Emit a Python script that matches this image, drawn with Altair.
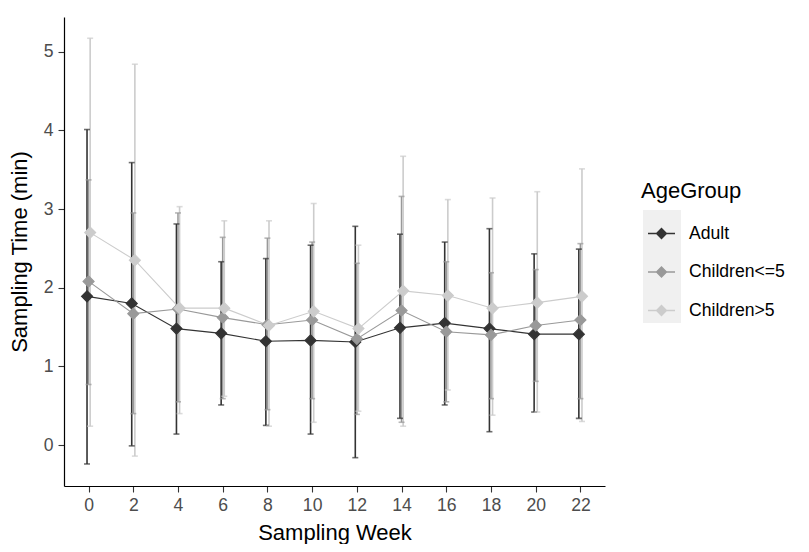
import altair as alt
import pandas as pd

weeks = [0, 2, 4, 6, 8, 10, 12, 14, 16, 18, 20, 22]
groups = ["Adult", "Children<=5", "Children>5"]
colors = ["#333333", "#999999", "#cccccc"]

adult_mean = [1.89, 1.80, 1.48, 1.42, 1.32, 1.33, 1.31, 1.49, 1.55, 1.48, 1.41, 1.41]
adult_lo = [-0.24, -0.01, 0.14, 0.51, 0.25, 0.14, -0.16, 0.34, 0.51, 0.17, 0.42, 0.34]
adult_hi = [4.01, 3.59, 2.81, 2.33, 2.37, 2.54, 2.78, 2.68, 2.58, 2.75, 2.43, 2.49]

c5_mean = [2.08, 1.67, 1.73, 1.62, 1.53, 1.59, 1.35, 1.71, 1.44, 1.40, 1.52, 1.59]
c5_lo = [0.77, 0.40, 0.55, 0.59, 0.45, 0.59, 0.39, 0.29, 0.55, 0.59, 0.81, 0.59]
c5_hi = [3.37, 2.95, 2.95, 2.64, 2.63, 2.58, 2.31, 3.16, 2.33, 2.19, 2.23, 2.56]

c6_mean = [2.70, 2.35, 1.74, 1.74, 1.52, 1.70, 1.48, 1.96, 1.90, 1.74, 1.81, 1.89]
c6_lo = [0.24, -0.14, 0.40, 0.62, 0.24, 0.29, 0.43, 0.24, 0.70, 0.38, 0.42, 0.30]
c6_hi = [5.17, 4.84, 3.03, 2.85, 2.85, 3.07, 2.54, 3.67, 3.12, 3.14, 3.22, 3.51]

y_ticks = [0, 1, 2, 3, 4, 5]

rows = []
for g, m, lo, hi in zip(groups, [adult_mean, c5_mean, c6_mean],
                        [adult_lo, c5_lo, c6_lo], [adult_hi, c5_hi, c6_hi]):
    for w, a, b, c in zip(weeks, m, lo, hi):
        rows.append({"week": w, "AgeGroup": g, "mean": a, "lo": b, "hi": c})
df = pd.DataFrame(rows)

FONT = "Liberation Sans"

x = alt.X("xd:Q", scale=alt.Scale(domain=[-1.1, 23.1], nice=False, zero=False),
          axis=alt.Axis(values=weeks, title="Sampling Week", format="d"))
yscale = alt.Scale(domain=[-0.52, 5.44], nice=False, zero=False)
color_scale = alt.Scale(domain=groups, range=colors)

base = alt.Chart(df).transform_calculate(
    xd="datum.week + (datum.AgeGroup == 'Adult' ? -0.07 : (datum.AgeGroup == 'Children>5' ? 0.07 : 0))"
)

legend = alt.Legend(
    title="AgeGroup", orient="none", legendX=577, legendY=164,
    titleFontSize=22, titleFont=FONT, titleFontWeight="normal", titleColor="#000000",
    titlePadding=16,
    labelFontSize=17.6, labelFont=FONT, labelColor="#000000",
    symbolType="M-1,0L1,0M0,-0.37L0.37,0L0,0.37L-0.37,0Z",
    symbolSize=729, symbolStrokeWidth=1.3, symbolOffset=6, labelOffset=13,
    symbolOpacity=1,
    rowPadding=14.5,
)

keybg = alt.Chart(pd.DataFrame({"k": [0]})).mark_rect(color="#f0f0f0").encode(
    x=alt.value(579), x2=alt.value(617), y=alt.value(193), y2=alt.value(306)
)

rules = base.mark_rule(strokeWidth=1.6).encode(
    x=x,
    y=alt.Y("lo:Q", scale=yscale,
            axis=alt.Axis(values=y_ticks, title="Sampling Time (min)", format="d", titleX=-33)),
    y2="hi:Q",
    color=alt.Color("AgeGroup:N", scale=color_scale, legend=legend),
)
cap_lo = base.mark_tick(orient="horizontal", size=6, thickness=1.6).encode(
    x=x, y=alt.Y("lo:Q", scale=yscale),
    color=alt.Color("AgeGroup:N", scale=color_scale, legend=legend),
)
cap_hi = base.mark_tick(orient="horizontal", size=6, thickness=1.6).encode(
    x=x, y=alt.Y("hi:Q", scale=yscale),
    color=alt.Color("AgeGroup:N", scale=color_scale, legend=legend),
)
lines = base.mark_line(strokeWidth=1.1).encode(
    x=x, y=alt.Y("mean:Q", scale=yscale),
    color=alt.Color("AgeGroup:N", scale=color_scale, legend=legend),
    detail="AgeGroup:N",
)
points = base.mark_point(shape="diamond", size=120, filled=False, strokeWidth=1.2, opacity=1).encode(
    x=x, y=alt.Y("mean:Q", scale=yscale),
    color=alt.Color("AgeGroup:N", scale=color_scale, legend=legend),
    fill=alt.Fill("AgeGroup:N", scale=color_scale, legend=legend),
)

chart = alt.layer(keybg, rules, cap_lo, cap_hi, lines, points).properties(
    width=541, height=469,
    autosize=alt.AutoSizeParams(type="none"),
    padding={"left": 56, "top": 9, "right": 195, "bottom": 58},
).configure_view(stroke=None).configure_axis(
    grid=False,
    domainColor="#000000", domainWidth=1.2,
    tickColor="#333333", tickSize=6, tickWidth=1.1,
    labelFont=FONT, labelFontSize=17.6, labelColor="#4d4d4d",
    titleFont=FONT, titleFontSize=22, titleFontWeight="normal", titleColor="#000000",
).configure_axisX(
    labelPadding=4, titlePadding=9,
).configure_axisY(
    labelPadding=5,
)

chart.save("out.html", embed_options={"renderer": "svg", "actions": False})
